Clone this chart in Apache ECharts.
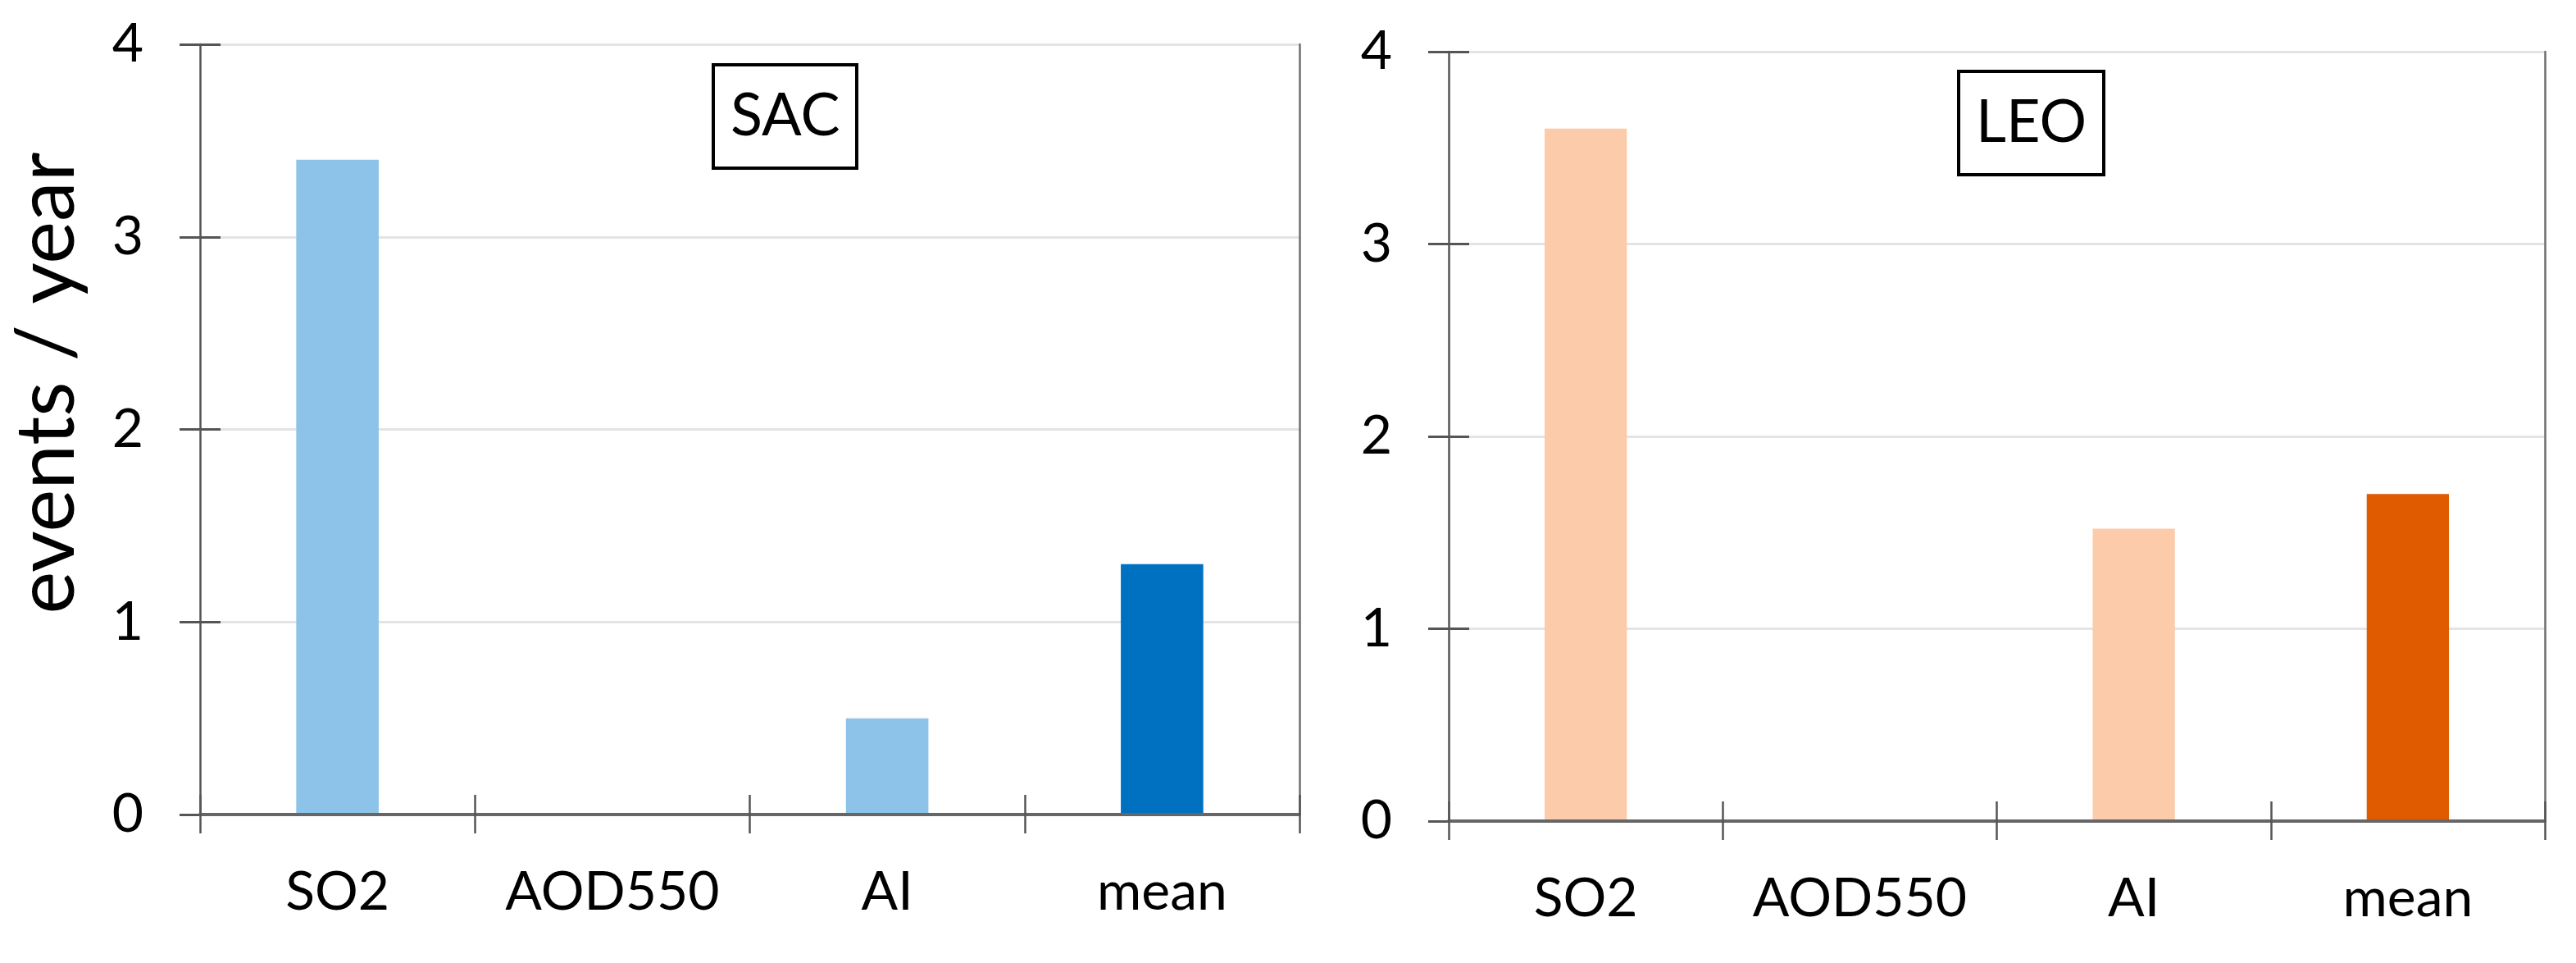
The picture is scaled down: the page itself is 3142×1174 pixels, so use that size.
<!DOCTYPE html>
<html>
<head>
<meta charset="utf-8">
<script src="https://cdn.jsdelivr.net/npm/echarts@6/dist/echarts.min.js"></script>
<style>
html,body{margin:0;padding:0;background:#fff;}
#chart{width:3142px;height:1174px;}
</style>
</head>
<body>
<div id="chart"></div>
<script>
// ---- data ----
const categories = ['SO2', 'AOD550', 'AI', 'mean'];
const sacValues = [3.4, 0, 0.5, 1.3];
const leoValues = [3.6, 0, 1.52, 1.7];
const panelTitles = ['SAC', 'LEO'];
const yTicks = [0, 1, 2, 3, 4];
const yAxisTitle = 'events / year';

// ---- style ----
const FONT = 'Lato';
const axisDark = '#555555';
const gridGrey = '#e4e4e4';
const sacLight = '#8DC3E8', sacDark = '#0070C0';
const leoLight = '#FCCBA9', leoDark = '#E05A00';

const chart = echarts.init(document.getElementById('chart'));

const grids = [
  { left: 244, right: 3142 - 1585, top: 54, bottom: 1174 - 993 },
  { left: 1767, right: 3142 - 3104, top: 63, bottom: 1174 - 1001 }
];

const xAxes = [], yAxes = [], series = [];
grids.forEach((g, gi) => {
  // main bottom category axis (labels, outside ticks)
  xAxes.push({
    type: 'category', gridIndex: gi, data: categories, position: 'bottom', z: 5,
    axisLine: { show: true, lineStyle: { color: axisDark, width: 3.5 } },
    axisTick: { show: true, length: 23, lineStyle: { color: axisDark, width: 2.5 } },
    axisLabel: { show: true, interval: 0, margin: 62, fontFamily: FONT, fontSize: 66, color: '#000' },
    splitLine: { show: false }
  });
  // inside ticks (to make ticks cross the axis)
  xAxes.push({
    type: 'category', gridIndex: gi, data: categories, position: 'bottom', z: 5,
    axisLine: { show: false },
    axisTick: { show: true, inside: true, length: 24, lineStyle: { color: axisDark, width: 2.5 } },
    axisLabel: { show: false }, splitLine: { show: false }
  });
  // top border
  xAxes.push({
    type: 'category', gridIndex: gi, data: categories, position: 'top', z: 5,
    axisLine: { show: true, lineStyle: { color: '#666666', width: 4 } },
    axisTick: { show: false }, axisLabel: { show: false }, splitLine: { show: false }
  });

  const yBase = { type: 'value', gridIndex: gi, min: yTicks[0], max: yTicks[yTicks.length - 1], interval: 1 };
  // main y axis: line, outside ticks, labels, gridlines (below bars)
  yAxes.push(Object.assign({}, yBase, {
    position: 'left', z: 0,
    axisLine: { show: true, lineStyle: { color: axisDark, width: 2.5 } },
    axisTick: { show: true, length: 25, lineStyle: { color: axisDark, width: 3 } },
    axisLabel: { show: true, margin: 69, fontFamily: FONT, fontSize: 66, color: '#000' },
    splitLine: { show: true, lineStyle: { color: gridGrey, width: 3 } }
  }));
  // inside ticks
  yAxes.push(Object.assign({}, yBase, {
    position: 'left', z: 4,
    axisLine: { show: false },
    axisTick: { show: true, inside: true, length: 25, lineStyle: { color: axisDark, width: 3 } },
    axisLabel: { show: false }, splitLine: { show: false }
  }));
  // right border
  yAxes.push(Object.assign({}, yBase, {
    position: 'right', z: 4,
    axisLine: { show: true, lineStyle: { color: '#6e6e6e', width: 2.5 } },
    axisTick: { show: false }, axisLabel: { show: false }, splitLine: { show: false }
  }));
});

const vals = [sacValues, leoValues];
const lights = [sacLight, leoLight], darks = [sacDark, leoDark];
vals.forEach((arr, gi) => {
  series.push({
    type: 'bar', xAxisIndex: gi * 3, yAxisIndex: gi * 3, barWidth: '30%', z: 2,
    data: arr.map((v, i) => ({
      value: v,
      itemStyle: { color: categories[i] === 'mean' ? darks[gi] : lights[gi] }
    }))
  });
});

const titleBox = (text, left, top) => ({
  text: text, left: left, top: top,
  borderColor: '#000', borderWidth: 4,
  padding: [22, 21, 22, 21],
  textStyle: { fontFamily: FONT, fontSize: 72, fontWeight: 'normal', color: '#000', lineHeight: 82 }
});

chart.setOption({
  backgroundColor: '#fff',
  animation: false,
  title: [titleBox(panelTitles[0], 870, 79), titleBox(panelTitles[1], 2389, 87)],
  grid: grids,
  xAxis: xAxes,
  yAxis: yAxes,
  series: series,
  graphic: [{
    type: 'text', x: 58, y: 467, rotation: Math.PI / 2,
    style: { text: yAxisTitle, fontFamily: FONT, fontSize: 98, fill: '#000', align: 'center', verticalAlign: 'middle' }
  }]
});
</script>
</body>
</html>
